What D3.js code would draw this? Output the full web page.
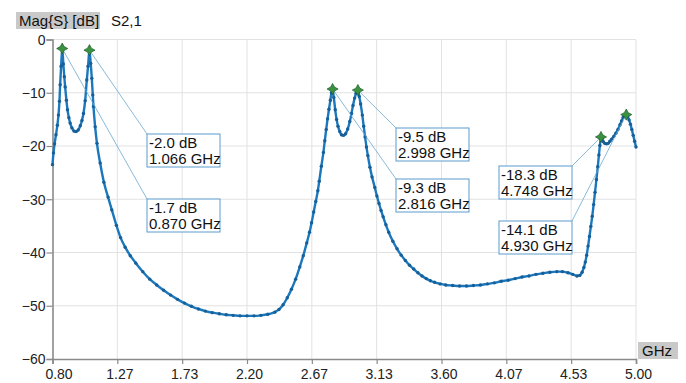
<!DOCTYPE html>
<html>
<head>
<meta charset="utf-8">
<script src="https://cdn.jsdelivr.net/npm/d3@7"></script>
<style>
  body { margin: 0; background: #fff; }
  svg { font-family: "Liberation Sans", Arial, sans-serif; }
</style>
</head>
<body>
<div id="chart"></div>
<script>
// S2,1 magnitude trace (GHz, dB)
const freqs = [
  0.800, 0.807, 0.815, 0.825, 0.835, 0.843, 0.850, 0.855, 0.862, 0.870,
  0.878, 0.885, 0.891, 0.900, 0.908, 0.918, 0.927, 0.940, 0.955, 0.970,
  0.985, 1.000, 1.012, 1.023, 1.035, 1.047, 1.056, 1.066, 1.075, 1.083,
  1.090, 1.095, 1.107, 1.120, 1.143, 1.170, 1.200, 1.227, 1.260, 1.290,
  1.323, 1.360, 1.400, 1.450, 1.500, 1.550, 1.600, 1.650, 1.700, 1.750,
  1.800, 1.850, 1.900, 1.950, 2.000, 2.050, 2.100, 2.150, 2.200, 2.250,
  2.300, 2.350, 2.400, 2.430, 2.460, 2.490, 2.520, 2.550, 2.580, 2.605,
  2.630, 2.650, 2.665, 2.680, 2.695, 2.710, 2.720, 2.735, 2.750, 2.760,
  2.770, 2.780, 2.790, 2.800, 2.808, 2.816, 2.825, 2.835, 2.845, 2.855,
  2.868, 2.880, 2.895, 2.910, 2.925, 2.940, 2.952, 2.963, 2.975, 2.985,
  2.998, 3.008, 3.018, 3.030, 3.040, 3.050, 3.060, 3.070, 3.085, 3.100,
  3.120, 3.135, 3.150, 3.165, 3.180, 3.200, 3.220, 3.250, 3.280, 3.310,
  3.340, 3.370, 3.400, 3.430, 3.460, 3.490, 3.520, 3.550, 3.590, 3.630,
  3.680, 3.730, 3.780, 3.830, 3.880, 3.930, 3.980, 4.030, 4.080, 4.130,
  4.180, 4.230, 4.280, 4.330, 4.380, 4.430, 4.470, 4.510, 4.545, 4.575,
  4.595, 4.612, 4.625, 4.635, 4.645, 4.655, 4.665, 4.675, 4.685, 4.695,
  4.705, 4.715, 4.725, 4.733, 4.740, 4.748, 4.756, 4.765, 4.775, 4.788,
  4.800, 4.812, 4.825, 4.840, 4.855, 4.870, 4.885, 4.896, 4.908, 4.920,
  4.930, 4.940, 4.950, 4.960, 4.970, 4.980, 4.990, 5.000
];
const magDb = [
  -23.5, -21.3, -19.6, -17.9, -16.1, -14.2, -11.6, -8.5, -5.0, -1.7,
  -4.6, -7.0, -8.9, -11.4, -13.2, -14.7, -15.7, -16.6, -17.2, -17.3,
  -17.0, -16.2, -15.2, -13.9, -11.5, -7.6, -5.0, -2.0, -4.5, -7.3,
  -10.4, -12.6, -16.4, -19.5, -23.2, -26.8, -29.6, -32.0, -34.9, -37.2,
  -39.0, -40.6, -42.0, -43.6, -45.0, -46.1, -47.1, -48.0, -48.8, -49.5,
  -50.1, -50.6, -51.0, -51.3, -51.5, -51.7, -51.8, -51.9, -51.9, -51.9,
  -51.8, -51.6, -51.2, -50.7, -49.8, -48.5, -46.9, -45.0, -42.7, -40.6,
  -38.2, -36.2, -34.4, -32.4, -30.4, -28.4, -26.6, -23.8, -21.2, -19.0,
  -16.9, -14.9, -13.1, -11.4, -10.0, -9.3, -10.9, -13.2, -15.0, -16.3,
  -17.3, -17.9, -18.0, -17.7, -16.8, -15.4, -13.9, -12.4, -11.0, -10.1,
  -9.5, -10.7, -12.1, -14.2, -16.3, -18.3, -20.2, -21.8, -24.0, -25.8,
  -27.8, -29.4, -30.8, -32.1, -33.3, -34.8, -36.2, -37.9, -39.3, -40.5,
  -41.5, -42.4, -43.1, -43.8, -44.4, -44.9, -45.3, -45.6, -45.9, -46.1,
  -46.2, -46.3, -46.3, -46.2, -46.1, -45.9, -45.7, -45.4, -45.2, -44.9,
  -44.6, -44.4, -44.1, -43.9, -43.7, -43.6, -43.6, -43.8, -44.1, -44.4,
  -44.3, -43.7, -42.8, -41.8, -40.5, -38.8, -37.0, -35.1, -33.2, -31.0,
  -28.7, -26.3, -23.9, -21.7, -19.9, -18.3, -18.7, -19.2, -19.5, -19.6,
  -19.5, -19.1, -18.7, -18.2, -17.6, -16.9, -16.0, -15.3, -14.6, -14.2,
  -14.1, -14.4, -15.1, -15.9, -16.9, -18.0, -19.1, -20.2
];

// peak markers (GHz, dB) and their readout boxes
const markerFreqs = [0.870, 1.066, 2.816, 2.998, 4.748, 4.930];
const markerDb    = [-1.7, -2.0, -9.3, -9.5, -18.3, -14.1];
// box top-left corner in pixels, and which corner the leader line goes to
const markerBoxes = [
  { x: 147, y: 199, corner: 'left' },
  { x: 147, y: 134, corner: 'left' },
  { x: 396, y: 179, corner: 'left' },
  { x: 396, y: 128, corner: 'left' },
  { x: 499, y: 166, corner: 'right' },
  { x: 499, y: 221, corner: 'right' }
];

const xTicks = [0.80, 1.2667, 1.7333, 2.20, 2.6667, 3.1333, 3.60, 4.0667, 4.5333, 5.00];
const yTicks = [0, -10, -20, -30, -40, -50, -60];

const width = 686, height = 383;
const margin = { top: 39.5, right: 50, bottom: 24, left: 52.5 };

const svg = d3.select('#chart').append('svg')
  .attr('width', width)
  .attr('height', height);

const x = d3.scaleLinear()
  .domain([0.8, 5.0])
  .range([margin.left, width - margin.right]);

const y = d3.scaleLinear()
  .domain([-60, 0])
  .range([height - margin.bottom, margin.top]);

// grid
svg.append('g')
  .selectAll('line.vgrid')
  .data(xTicks.slice(1))
  .join('line')
  .attr('x1', d => x(d)).attr('x2', d => x(d))
  .attr('y1', y(0)).attr('y2', y(-60))
  .attr('stroke', '#e2e2e2').attr('stroke-width', 1);

svg.append('g')
  .selectAll('line.hgrid')
  .data(yTicks.slice(0, -1))
  .join('line')
  .attr('x1', x(0.8)).attr('x2', x(5.0))
  .attr('y1', d => y(d)).attr('y2', d => y(d))
  .attr('stroke', '#e2e2e2').attr('stroke-width', 1);

// axes
const xAxis = svg.append('g')
  .attr('transform', `translate(0,${y(-60)})`)
  .call(d3.axisBottom(x).tickValues(xTicks).tickFormat(d3.format('.2f')).tickSize(5).tickPadding(5));
const yAxis = svg.append('g')
  .attr('transform', `translate(${x(0.8)},0)`)
  .call(d3.axisLeft(y).tickValues(yTicks).tickSize(6).tickPadding(1));

[xAxis, yAxis].forEach(g => {
  g.select('.domain').attr('stroke', '#8a8a8a').attr('stroke-width', 1.6);
  g.selectAll('.tick line').attr('stroke', '#8a8a8a').attr('stroke-width', 1.2);
  g.selectAll('.tick text')
    .attr('fill', '#222')
    .style('font-size', '14px')
    .style('font-family', '"Liberation Sans", Arial, sans-serif');
});
xAxis.selectAll('.tick text').attr('dx', (d, i) => i === 0 ? 6 : 2);
yAxis.selectAll('.tick text').attr('dy', '0.35em');

// trace
const pts = freqs.map((f, i) => [f, magDb[i]]);
svg.append('path')
  .datum(pts)
  .attr('fill', 'none')
  .attr('stroke', '#1b78bd')
  .attr('stroke-width', 2.4)
  .attr('d', d3.line().x(d => x(d[0])).y(d => y(d[1])).curve(d3.curveMonotoneX));

svg.append('g')
  .selectAll('circle')
  .data(pts)
  .join('circle')
  .attr('cx', d => x(d[0]))
  .attr('cy', d => y(d[1]))
  .attr('r', 1.7)
  .attr('fill', '#165f98');

// marker leaders and readouts
const boxW = 73, boxH = 33;
const markers = markerFreqs.map((f, i) => ({ f, db: markerDb[i], box: markerBoxes[i] }));

svg.append('g')
  .selectAll('line')
  .data(markers)
  .join('line')
  .attr('x1', d => x(d.f)).attr('y1', d => y(d.db))
  .attr('x2', d => d.box.corner === 'left' ? d.box.x : d.box.x + boxW)
  .attr('y2', d => d.box.y)
  .attr('stroke', '#6aa8cf').attr('stroke-width', 0.8);

// four-point star for the peak markers
const star4 = {
  draw(ctx, size) {
    const r = Math.sqrt(size) * 0.75, k = r * 0.35;
    ctx.moveTo(0, -r);
    ctx.lineTo(k, -k); ctx.lineTo(r, 0); ctx.lineTo(k, k);
    ctx.lineTo(0, r); ctx.lineTo(-k, k); ctx.lineTo(-r, 0); ctx.lineTo(-k, -k);
    ctx.closePath();
  }
};

svg.append('g')
  .selectAll('path')
  .data(markers)
  .join('path')
  .attr('transform', d => `translate(${x(d.f)},${y(d.db)})`)
  .attr('d', d3.symbol().type(star4).size(55))
  .attr('fill', '#3a9140')
  .attr('stroke', '#1d5a2a')
  .attr('stroke-width', 0.7);

const boxes = svg.append('g')
  .selectAll('g')
  .data(markers)
  .join('g')
  .attr('transform', d => `translate(${d.box.x},${d.box.y})`);

boxes.append('rect')
  .attr('width', boxW).attr('height', boxH)
  .attr('fill', '#fff')
  .attr('stroke', '#5b9ccb').attr('stroke-width', 1);

boxes.append('text')
  .attr('x', 2).attr('y', 14)
  .style('font-size', '15px').attr('fill', '#111')
  .text(d => `${d.db.toFixed(1)} dB`);

boxes.append('text')
  .attr('x', 2).attr('y', 30)
  .style('font-size', '15px').attr('fill', '#111')
  .text(d => `${d.f.toFixed(3)} GHz`);

// header and unit labels
svg.append('rect')
  .attr('x', 16).attr('y', 12).attr('width', 84).attr('height', 17)
  .attr('fill', '#c9c9c9');
svg.append('text')
  .attr('x', 19).attr('y', 26)
  .style('font-size', '15px').attr('fill', '#111')
  .text('Mag{S} [dB]');
svg.append('text')
  .attr('x', 111).attr('y', 26)
  .style('font-size', '15px').attr('fill', '#111')
  .text('S2,1');

svg.append('rect')
  .attr('x', 638).attr('y', 342).attr('width', 40).attr('height', 17)
  .attr('fill', '#c9c9c9');
svg.append('text')
  .attr('x', 642).attr('y', 356)
  .style('font-size', '15px').attr('fill', '#111')
  .text('GHz');
</script>
</body>
</html>
